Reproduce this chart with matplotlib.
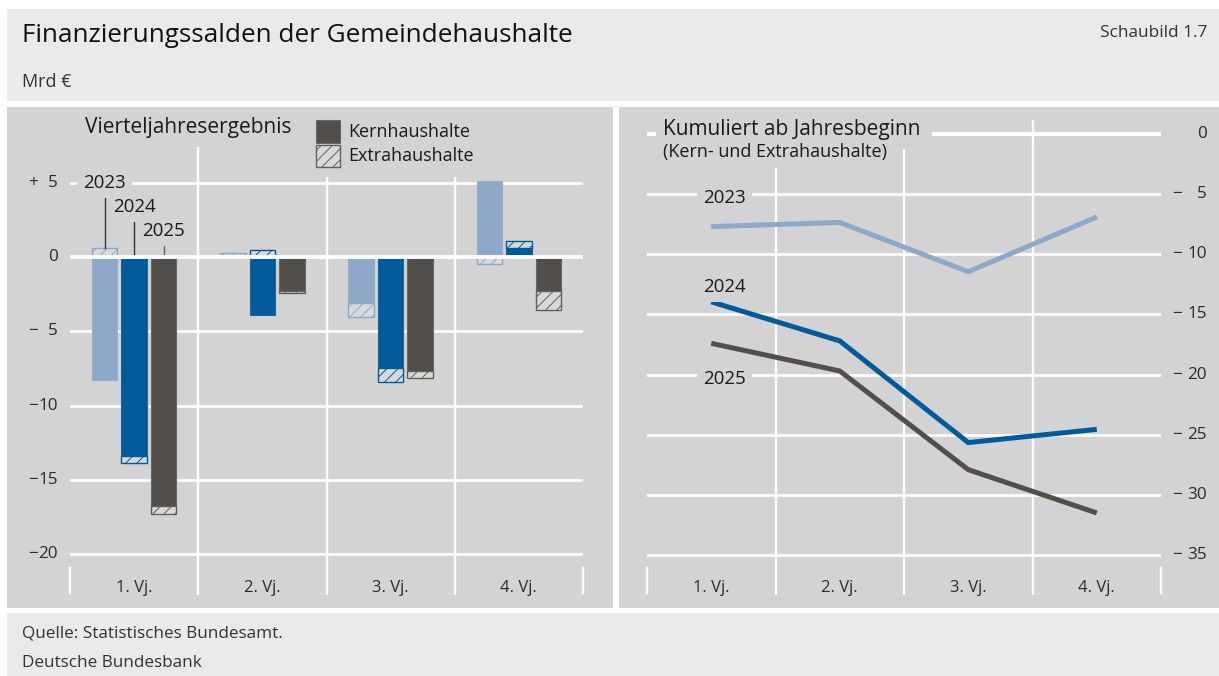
import numpy as np
import matplotlib.pyplot as plt
from matplotlib.patches import Rectangle

plt.rcParams['font.family'] = ['Open Sans', 'DejaVu Sans']
plt.rcParams['hatch.linewidth'] = 0.7

# data (Mrd €)
quarters = ['1. Vj.', '2. Vj.', '3. Vj.', '4. Vj.']
years = ['2023', '2024', '2025']

core_2023 = [-8.3, 0.0, -3.1, 5.1]
extra_2023 = [0.6, 0.3, -0.95, -0.5]
core_2024 = [-13.4, -3.9, -7.5, 0.6]
extra_2024 = [-0.5, 0.5, -0.9, 0.45]
core_2025 = [-16.75, -2.3, -7.7, -2.3]
extra_2025 = [-0.55, -0.1, -0.45, -1.25]

cum_2023 = [-7.7, -7.35, -11.45, -6.9]
cum_2024 = [-13.95, -17.2, -25.65, -24.55]
cum_2025 = [-17.4, -19.7, -27.9, -31.5]

left_ticks = [5, 0, -5, -10, -15, -20]
right_ticks = [0, -5, -10, -15, -20, -25, -30, -35]

colors = {'2023': '#8ea8c9', '2024': '#005b9a', '2025': '#524e4b'}
core_edges = {'2023': '#98b0cd', '2024': '#1a68a2', '2025': '#6a6664'}
hatch_edges = {'2023': '#8ea8c9', '2024': '#005b9a', '2025': '#625e5b'}
cores = {'2023': core_2023, '2024': core_2024, '2025': core_2025}
extras = {'2023': extra_2023, '2024': extra_2024, '2025': extra_2025}
cums = {'2023': cum_2023, '2024': cum_2024, '2025': cum_2025}

panel = '#d3d3d3'
light = '#eaeaea'
txt = '#2b2b2b'

W, H = 1219, 676


def fx(x):
    return x / W


def fy(y):
    return 1 - y / H


def rect(x0, y0, x1, y1, **kw):
    return Rectangle((fx(x0), fy(y1)), (x1 - x0) / W, (y1 - y0) / H,
                     transform=fig.transFigure, **kw)


def sign_of(v):
    if v > 0:
        return '+'
    if v < 0:
        return '\u2212'
    return ''


fig = plt.figure(figsize=(W / 100, H / 100), dpi=100)
fig.patch.set_facecolor('white')

# backgrounds
fig.patches.append(rect(7, 9, W, 101, facecolor=light, edgecolor='none', zorder=-2))
fig.patches.append(rect(7, 613, W, H, facecolor=light, edgecolor='none', zorder=-2))
fig.patches.append(rect(7, 106.5, 612.5, 608, facecolor=panel, edgecolor='none', zorder=-2))
fig.patches.append(rect(618.5, 106.5, W, 608, facecolor=panel, edgecolor='none', zorder=-2))

fig.text(fx(22), fy(36), 'Finanzierungssalden der Gemeindehaushalte',
         fontsize=18.8, color='#111111', va='center', ha='left')
fig.text(fx(1207), fy(33), 'Schaubild 1.7', fontsize=12.4, color='#333333',
         va='center', ha='right')
fig.text(fx(22), fy(82), 'Mrd \u20ac', fontsize=13, color='#333333', va='center')
fig.text(fx(22), fy(633), 'Quelle: Statistisches Bundesamt.', fontsize=12.3,
         color='#333333', va='center')
fig.text(fx(22), fy(663), 'Deutsche Bundesbank', fontsize=12.3,
         color='#333333', va='center')

# ---------------- left panel: quarterly results ----------------
axL = fig.add_axes([fx(70), fy(595), 513 / W, 475 / H])
axL.set_xlim(-0.5, 3.5)
axL.set_ylim(-22.76, 9.23)
axL.axis('off')

for v in left_ticks:
    if v != 0:
        axL.axhline(v, color='white', lw=1.9, zorder=1)
axL.axhline(0, color='white', lw=2.8, zorder=4)
for xv in [0.5, 1.5, 2.5]:
    axL.axvline(xv, color='white', lw=1.7, zorder=1)
for xv in [-0.5, 3.5]:
    axL.axvline(xv, ymin=0.005, ymax=0.057, color='white', lw=1.7,
                zorder=1, clip_on=False)

x = np.arange(len(quarters))
width = 0.197
offsets = {'2023': -0.23, '2024': 0.0, '2025': 0.23}
for yr in years:
    c = np.array(cores[yr])
    e = np.array(extras[yr])
    xs = x + offsets[yr]
    axL.bar(xs, c, width, color=colors[yr], edgecolor=core_edges[yr],
            lw=0.8, zorder=2)
    bottom = np.where(np.sign(c) == np.sign(e), c, 0.0)
    axL.bar(xs, e, width, bottom=bottom, color='#d9d9d9',
            edgecolor=hatch_edges[yr], hatch='///', lw=1.0, zorder=2)

ytrL = axL.get_yaxis_transform()
for v in left_ticks:
    axL.text(-0.0234, v, str(abs(v)), transform=ytrL,
             ha='right', va='center', fontsize=12.3, color=txt)
    axL.text(-0.082, v, sign_of(v), transform=ytrL,
             ha='left', va='center', fontsize=12.3, color=txt)
for i, q in enumerate(quarters):
    axL.text(i, -22.29, q, ha='center', va='center', fontsize=12, color=txt)

# year labels with leader lines
lab_y = {'2023': 5.0, '2024': 3.37, '2025': 1.75}
lead_top = {'2023': 3.97, '2024': 2.36, '2025': 1.0}
lead_col = {'2023': '#333333', '2024': '#333333', '2025': '#666666'}
for yr in years:
    xs = offsets[yr]
    top = max(0, cores[yr][0]) + max(0, extras[yr][0])
    axL.plot([xs, xs], [lead_top[yr], top], color=lead_col[yr], lw=1.0, zorder=3)
    axL.text(xs, lab_y[yr], yr, ha='center', va='center', fontsize=13.5,
             color='#1a1a1a', zorder=5,
             bbox=dict(facecolor=panel, edgecolor='none', pad=4.5))

fig.text(fx(85), fy(128), 'Vierteljahresergebnis', fontsize=15, color='#1a1a1a',
         va='center', ha='left',
         bbox=dict(facecolor=panel, edgecolor='none', pad=6))

# legend
fig.patches.append(rect(310, 112, 480, 177, facecolor=panel, edgecolor='none', zorder=1))
fig.patches.append(rect(316, 120, 340, 143, facecolor=colors['2025'],
                        edgecolor='#6a6664', lw=0.8, zorder=2))
fig.patches.append(rect(316, 145, 340, 167, facecolor='#d9d9d9',
                        edgecolor='#625e5b', hatch='///', lw=1.0, zorder=2))
fig.text(fx(348), fy(132), 'Kernhaushalte', fontsize=13, color='#1a1a1a', va='center')
fig.text(fx(348), fy(156), 'Extrahaushalte', fontsize=13, color='#1a1a1a', va='center')

# ---------------- right panel: cumulative ----------------
axR = fig.add_axes([fx(647), fy(595), 514 / W, 475 / H])
axR.set_xlim(-0.5, 3.5)
axR.set_ylim(-38.32, 1.164)
axR.axis('off')

for v in right_ticks:
    axR.axhline(v, color='white', lw=3.0 if v == 0 else 1.9, zorder=1)
for xv in [0.5, 1.5, 2.5]:
    axR.axvline(xv, color='white', lw=1.7, zorder=1)
for xv in [-0.5, 3.5]:
    axR.axvline(xv, ymin=0.005, ymax=0.057, color='white', lw=1.7,
                zorder=1, clip_on=False)

for yr in years:
    axR.plot(x, cums[yr], color=colors[yr], lw=3.6, zorder=3,
             solid_joinstyle='miter', solid_capstyle='butt')

ytrR = axR.get_yaxis_transform()
for v in right_ticks:
    axR.text(1.0895, v, str(abs(v)), transform=ytrR,
             ha='right', va='center', fontsize=12.3, color=txt)
    axR.text(1.0215, v, sign_of(v), transform=ytrR,
             ha='left', va='center', fontsize=12.3, color=txt)
for i, q in enumerate(quarters):
    axR.text(i, -37.7, q, ha='center', va='center', fontsize=12, color=txt)

rlab_y = {'2023': -5.3, '2024': -12.7, '2025': -20.4}
for yr in years:
    axR.text(0.1, rlab_y[yr], yr, ha='center', va='center', fontsize=13.5,
             color='#1a1a1a', zorder=5,
             bbox=dict(facecolor=panel, edgecolor='none', pad=4.5))

# cover gridlines behind the panel heading
fig.patches.append(rect(656, 114, 932, 149, facecolor=panel, edgecolor='none', zorder=1))
fig.patches.append(rect(656, 149, 896, 168, facecolor=panel, edgecolor='none', zorder=1))
fig.text(fx(663), fy(129), 'Kumuliert ab Jahresbeginn', fontsize=15,
         color='#1a1a1a', va='center', ha='left', zorder=4)
fig.text(fx(663), fy(152), '(Kern- und Extrahaushalte)', fontsize=13,
         color='#1a1a1a', va='center', ha='left', zorder=4)

fig.savefig('out.png', dpi=100, facecolor=fig.get_facecolor())
